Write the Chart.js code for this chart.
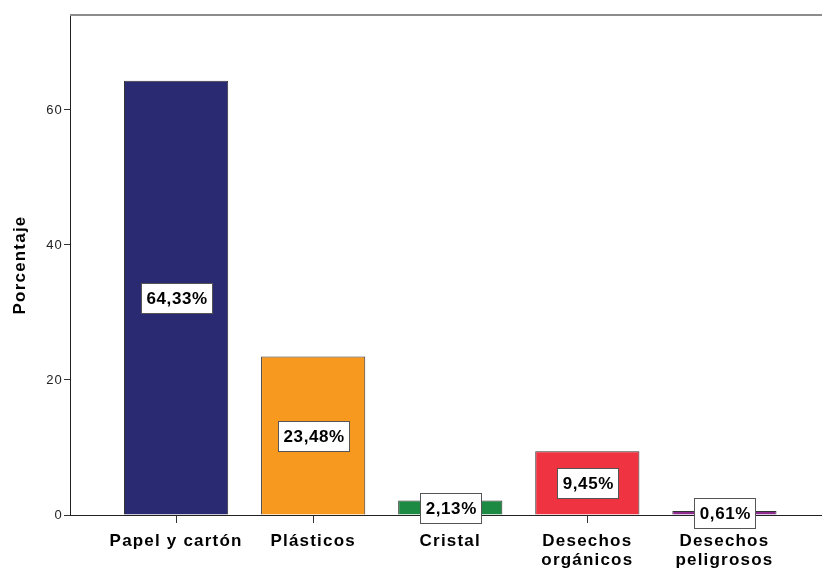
<!DOCTYPE html>
<html>
<head>
    <meta charset="utf-8">
    <title>Porcentaje</title>
    <script src="https://cdn.jsdelivr.net/npm/chart.js@4.4.0/dist/chart.umd.min.js"></script>
    <style>
        body { margin: 0; background: #fff; }
        #wrap { width: 822px; height: 570px; }
    </style>
</head>
<body>
    <div id="wrap"><canvas id="chart" width="822" height="570"></canvas></div>
    <script>
        const categories = ['Papel y cartón', 'Plásticos', 'Cristal', ['Desechos', 'orgánicos'], ['Desechos', 'peligrosos']]
        const values = [64.33, 23.48, 2.13, 9.45, 0.61]
        const colors = ['#292a72', '#f7991f', '#1c8a43', '#ef3340', '#8d2b8f']
        const yTicks = [0, 20, 40, 60]

        const FONT = '"Liberation Sans", Arial, sans-serif'

        // SPSS text is spaced out a bit wider than plain Arial
        const spacing = {
            id: 'spacing',
            beforeLayout(chart) { chart.ctx.letterSpacing = '1.2px' },
            beforeDraw(chart) { chart.ctx.letterSpacing = '1.2px' }
        }

        // value boxes in the middle of each bar
        const boxLabels = {
            id: 'boxLabels',
            afterDatasetsDraw(chart) {
                const ctx = chart.ctx
                const meta = chart.getDatasetMeta(0)
                ctx.save()
                ctx.letterSpacing = '0.6px'
                ctx.font = 'bold 17px ' + FONT
                ctx.textAlign = 'center'
                ctx.textBaseline = 'middle'
                meta.data.forEach(function (bar, i) {
                    const txt = values[i].toFixed(2).replace('.', ',') + '%'
                    const w = Math.round(ctx.measureText(txt).width + 10)
                    const h = 30
                    const cy = Math.round((bar.y + bar.base) / 2)
                    const x0 = Math.round(bar.x - w / 2)
                    ctx.fillStyle = '#fff'
                    ctx.fillRect(x0, cy - h / 2, w, h)
                    ctx.strokeStyle = '#555'
                    ctx.lineWidth = 1
                    ctx.strokeRect(x0 + 0.5, cy - h / 2 + 0.5, w, h)
                    ctx.fillStyle = '#000'
                    ctx.fillText(txt, bar.x + 1, cy + 1)
                })
                ctx.restore()
            }
        }

        // grey frame line along the top of the plot
        const topLine = {
            id: 'topLine',
            beforeDatasetsDraw(chart) {
                const a = chart.chartArea
                const ctx = chart.ctx
                ctx.save()
                ctx.strokeStyle = '#8c8c8c'
                ctx.lineWidth = 2
                ctx.beginPath()
                ctx.moveTo(a.left, a.top)
                ctx.lineTo(chart.width, a.top)
                ctx.stroke()
                ctx.restore()
            }
        }

        var ctx = document.getElementById('chart').getContext('2d')
        var chart = new Chart(ctx, {
            type: 'bar',
            data: {
                datasets: [{
                    data: values.map(function (v, i) { return { x: i, y: v } }),
                    backgroundColor: colors,
                    borderColor: '#333',
                    borderWidth: 1,
                    barPercentage: 0.76,
                    categoryPercentage: 1
                }]
            },
            plugins: [spacing, boxLabels, topLine],
            options: {
                responsive: false,
                animation: false,
                layout: { padding: { top: 15, right: 0, bottom: 0, left: 0 } },
                plugins: { legend: { display: false }, tooltip: { enabled: false } },
                scales: {
                    x: {
                        type: 'linear',
                        offset: false,
                        min: -0.774,
                        max: 4.712,
                        afterBuildTicks: function (axis) {
                            axis.ticks = categories.map(function (c, i) { return { value: i } })
                        },
                        afterFit: function (axis) { axis.height = 55 },
                        grid: { offset: false, drawOnChartArea: false, tickLength: 8, color: '#333', tickWidth: 1 },
                        border: { color: '#222', width: 1 },
                        ticks: {
                            autoSkip: false,
                            maxRotation: 0,
                            padding: 9,
                            color: '#000',
                            font: { family: FONT, size: 17, weight: 'bold', lineHeight: 1.1 },
                            callback: function (v) { return categories[v] }
                        }
                    },
                    y: {
                        min: 0,
                        max: 74.07,
                        afterBuildTicks: function (axis) {
                            axis.ticks = yTicks.map(function (v) { return { value: v } })
                        },
                        afterFit: function (axis) { axis.width = 70 },
                        grid: { drawOnChartArea: false, tickLength: 6, color: '#333', tickWidth: 1 },
                        border: { color: '#222', width: 1 },
                        ticks: {
                            padding: 1,
                            color: '#222',
                            font: { family: FONT, size: 13 }
                        },
                        title: {
                            display: true,
                            text: 'Porcentaje',
                            color: '#000',
                            padding: { top: 10, bottom: 16 },
                            font: { family: FONT, size: 17, weight: 'bold' }
                        }
                    }
                }
            }
        })
    </script>
</body>
</html>
